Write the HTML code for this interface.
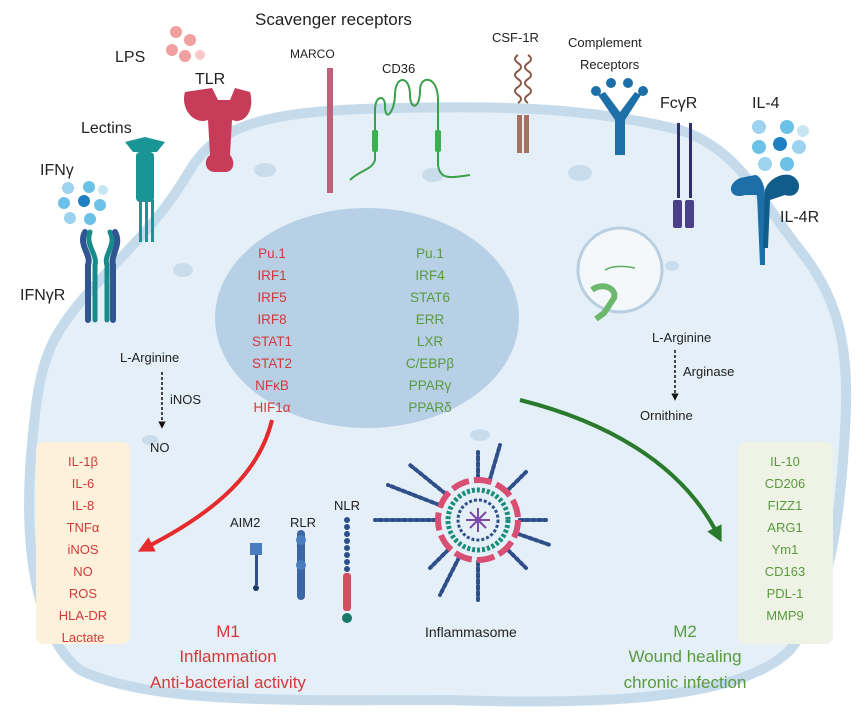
<!DOCTYPE html>
<html><head><meta charset="utf-8"><style>
body{margin:0;background:#fff}
svg{display:block}
text{font-family:"Liberation Sans",sans-serif}
</style></head><body>
<svg width="865" height="719" viewBox="0 0 865 719" xmlns="http://www.w3.org/2000/svg">
<defs>
<marker id="ar" viewBox="0 0 10 10" refX="5" refY="5" markerWidth="4" markerHeight="4" orient="auto"><path d="M0,0L10,5L0,10z" fill="#e52b2b"/></marker>
<marker id="ag" viewBox="0 0 10 10" refX="5" refY="5" markerWidth="4" markerHeight="4" orient="auto"><path d="M0,0L10,5L0,10z" fill="#2a7a2e"/></marker>
<marker id="ak" viewBox="0 0 10 10" refX="5" refY="5" markerWidth="5" markerHeight="5" orient="auto"><path d="M0,0L10,5L0,10z" fill="#111"/></marker>
</defs>
<path d="M60,330 C90,280 150,240 190,170 C220,120 280,110 400,108 C520,105 600,110 680,130 C740,150 760,200 800,250 C840,300 850,350 845,430 C840,520 830,600 790,650 C740,700 600,705 450,700 C300,700 150,705 80,670 C40,640 25,560 30,470 C35,400 40,360 60,330Z" fill="#e4eff7" stroke="#c5dbec" stroke-width="10"/>
<g fill="#c9dcec">
<ellipse cx="265" cy="170" rx="11" ry="7"/><ellipse cx="433" cy="175" rx="11" ry="7"/><ellipse cx="580" cy="173" rx="12" ry="8"/><ellipse cx="183" cy="270" rx="10" ry="7"/><ellipse cx="672" cy="266" rx="7" ry="5"/><ellipse cx="150" cy="440" rx="8" ry="5"/><ellipse cx="480" cy="435" rx="10" ry="6"/>
</g>
<ellipse cx="367" cy="318" rx="152" ry="110" fill="#b8d0e6"/>
<g font-size="13.5" text-anchor="middle" fill="#d23a3a">
<text x="272" y="258">Pu.1</text><text x="272" y="280">IRF1</text><text x="272" y="302">IRF5</text><text x="272" y="324">IRF8</text><text x="272" y="346">STAT1</text><text x="272" y="368">STAT2</text><text x="272" y="390">NFκB</text><text x="272" y="412">HIF1α</text>
</g>
<g font-size="13.5" text-anchor="middle" fill="#5a9a3e">
<text x="430" y="258">Pu.1</text><text x="430" y="280">IRF4</text><text x="430" y="302">STAT6</text><text x="430" y="324">ERR</text><text x="430" y="346">LXR</text><text x="430" y="368">C/EBPβ</text><text x="430" y="390">PPARγ</text><text x="430" y="412">PPARδ</text>
</g>
<path d="M272,420 C260,470 220,510 145,548" fill="none" stroke="#e52b2b" stroke-width="4" marker-end="url(#ar)"/>
<path d="M520,400 C600,420 680,460 718,535" fill="none" stroke="#2a7a2e" stroke-width="4" marker-end="url(#ag)"/>
<rect x="36" y="442" width="94" height="202" rx="8" fill="#fdf1db"/>
<rect x="738" y="442" width="95" height="202" rx="8" fill="#eef3e6"/>
<g font-size="13" text-anchor="middle" fill="#d23a3a">
<text x="83" y="466">IL-1β</text><text x="83" y="488">IL-6</text><text x="83" y="510">IL-8</text><text x="83" y="532">TNFα</text><text x="83" y="554">iNOS</text><text x="83" y="576">NO</text><text x="83" y="598">ROS</text><text x="83" y="620">HLA-DR</text><text x="83" y="642">Lactate</text>
</g>
<g font-size="13" text-anchor="middle" fill="#5a9a3e">
<text x="785" y="466">IL-10</text><text x="785" y="488">CD206</text><text x="785" y="510">FIZZ1</text><text x="785" y="532">ARG1</text><text x="785" y="554">Ym1</text><text x="785" y="576">CD163</text><text x="785" y="598">PDL-1</text><text x="785" y="620">MMP9</text>
</g>
<g font-size="17" text-anchor="middle" fill="#d23a3a"><text x="228" y="637">M1</text><text x="228" y="662">Inflammation</text><text x="228" y="688">Anti-bacterial activity</text></g>
<g font-size="17" text-anchor="middle" fill="#5a9a3e"><text x="685" y="637">M2</text><text x="685" y="662">Wound healing</text><text x="685" y="688">chronic infection</text></g>
<g font-size="13" fill="#222">
<text x="120" y="362">L-Arginine</text><text x="170" y="404">iNOS</text><text x="150" y="452">NO</text>
<text x="652" y="342">L-Arginine</text><text x="683" y="376">Arginase</text><text x="640" y="420">Ornithine</text>
<text x="425" y="637" font-size="14">Inflammasome</text>
<text x="230" y="527">AIM2</text><text x="290" y="527">RLR</text><text x="334" y="510">NLR</text>
</g>
<line x1="162" y1="372" x2="162" y2="425" stroke="#111" stroke-width="1.5" stroke-dasharray="3,2" marker-end="url(#ak)"/>
<line x1="675" y1="350" x2="675" y2="397" stroke="#111" stroke-width="1.5" stroke-dasharray="3,2" marker-end="url(#ak)"/>
<g font-size="16" fill="#222">
<text x="115" y="62">LPS</text><text x="195" y="84">TLR</text><text x="81" y="133">Lectins</text><text x="40" y="175">IFNγ</text><text x="20" y="300">IFNγR</text>
<text x="255" y="25" font-size="17">Scavenger receptors</text>
<text x="290" y="58" font-size="12">MARCO</text><text x="382" y="73" font-size="13">CD36</text><text x="492" y="42" font-size="13">CSF-1R</text>
<text x="568" y="47" font-size="13">Complement</text><text x="580" y="69" font-size="13">Receptors</text>
<text x="660" y="108">FcγR</text><text x="752" y="108">IL-4</text><text x="780" y="222">IL-4R</text>
</g>
<g fill="#f0a0a0"><circle cx="176" cy="32" r="6"/><circle cx="190" cy="40" r="6"/><circle cx="172" cy="50" r="6"/><circle cx="185" cy="56" r="6"/><circle cx="200" cy="55" r="5" fill="#f8c8c8"/></g>
<path d="M185,92 C180,110 195,125 208,120 L210,155 C203,160 205,172 215,172 L225,172 C235,172 235,160 230,155 L232,120 C245,125 255,110 250,92 L235,88 L230,100 L218,100 L212,88Z" fill="#c73c58"/>
<g fill="#1a9595"><path d="M125,142 l20,-5 l20,5 l-8,10 l-24,0z"/><rect x="136" y="152" width="18" height="50" rx="4"/><rect x="139" y="200" width="3" height="42"/><rect x="145" y="200" width="3" height="42"/><rect x="151" y="200" width="3" height="42"/></g>
<g fill="#6cc2e6"><circle cx="68" cy="188" r="6" fill="#9dd3ee"/><circle cx="89" cy="187" r="6"/><circle cx="103" cy="190" r="5" fill="#c7e6f4"/><circle cx="64" cy="203" r="6"/><circle cx="84" cy="201" r="6" fill="#1f7fc0"/><circle cx="100" cy="205" r="6"/><circle cx="70" cy="218" r="6" fill="#9dd3ee"/><circle cx="90" cy="219" r="6"/></g>
<g stroke-linecap="round" fill="none"><path d="M85,232 C78,245 92,255 88,265 L88,320" stroke="#2f5693" stroke-width="6"/><path d="M90,232 C85,245 98,255 95,265 L95,320" stroke="#198a8a" stroke-width="5"/><path d="M110,232 C117,245 103,255 107,265 L107,320" stroke="#198a8a" stroke-width="5"/><path d="M115,232 C122,245 110,255 113,265 L113,320" stroke="#2f5693" stroke-width="6"/></g>
<rect x="327" y="68" width="6" height="125" fill="#c0607a"/>
<path d="M350,180 C360,170 372,170 375,160 L375,110 C375,95 385,95 385,105 C385,125 395,110 395,95 C395,75 410,75 410,95 C410,110 420,110 420,90 C420,75 438,75 438,100 L438,165 C440,180 450,178 470,175" fill="none" stroke="#3aa04a" stroke-width="2"/>
<rect x="372" y="130" width="6" height="22" rx="2" fill="#3ab050"/><rect x="435" y="130" width="6" height="22" rx="2" fill="#3ab050"/>
<path d="M518,55 q-6,4 0,8 q6,4 0,8 q-6,4 0,8 q6,4 0,8 q-6,4 0,8 q6,4 0,8 M528,55 q6,4 0,8 q-6,4 0,8 q6,4 0,8 q-6,4 0,8 q6,4 0,8 q-6,4 0,8" fill="none" stroke="#8a5a4a" stroke-width="2"/>
<rect x="517" y="115" width="5" height="38" fill="#a87060"/><rect x="524" y="115" width="5" height="38" fill="#a87060"/>
<g fill="#1c6fa8"><circle cx="611" cy="83" r="5"/><circle cx="628" cy="83" r="5"/><circle cx="596" cy="91" r="5"/><circle cx="643" cy="91" r="5"/><path d="M598,95 L615,120 L615,155 L625,155 L625,120 L641,95 L635,92 L620,112 L605,92Z"/></g>
<rect x="677" y="123" width="3" height="75" fill="#2f2f6a"/><rect x="689" y="123" width="3" height="75" fill="#2f2f6a"/>
<rect x="673" y="200" width="9" height="28" rx="2" fill="#4b3f8a"/><rect x="685" y="200" width="9" height="28" rx="2" fill="#4b3f8a"/>
<g fill="#6cc2e6"><circle cx="759" cy="127" r="7" fill="#9dd3ee"/><circle cx="787" cy="127" r="7"/><circle cx="803" cy="131" r="6" fill="#c7e6f4"/><circle cx="759" cy="147" r="7"/><circle cx="780" cy="144" r="7" fill="#1f7fc0"/><circle cx="799" cy="147" r="7" fill="#9dd3ee"/><circle cx="765" cy="164" r="7" fill="#9dd3ee"/><circle cx="787" cy="164" r="7"/></g>
<path d="M740,178 C725,185 730,200 745,195 L757,195 L760,265 L765,265 L765,195 C765,185 760,175 755,175Z" fill="#1c6fa8"/>
<path d="M790,175 C805,180 800,200 785,195 L770,200 L768,248 L763,248 L765,190 C768,180 780,173 790,175Z" fill="#105d8a"/>
<circle cx="620" cy="270" r="42" fill="#f4f8fb" stroke="#b9cfe0" stroke-width="3"/>
<path d="M605,270 q10,-6 30,-2" stroke="#5cb060" fill="none" stroke-width="1.5"/>
<path d="M592,290 c10,-8 25,-2 22,8 l-10,15 l-8,6" stroke="#6cb86c" stroke-width="6" fill="none"/>
<rect x="250" y="543" width="12" height="12" fill="#4a7dc0"/><rect x="255" y="555" width="3" height="30" fill="#2f4f8a"/><circle cx="256" cy="588" r="3" fill="#1a3a6a"/>
<rect x="297" y="530" width="8" height="70" rx="4" fill="#3a66a8"/><circle cx="301" cy="540" r="5" fill="#4a7dc0"/><circle cx="301" cy="565" r="5" fill="#4a7dc0"/>
<g fill="#2f4f8a"><circle cx="347" cy="520" r="3"/><circle cx="347" cy="527" r="3"/><circle cx="347" cy="534" r="3"/><circle cx="347" cy="541" r="3"/><circle cx="347" cy="548" r="3"/><circle cx="347" cy="555" r="3"/><circle cx="347" cy="562" r="3"/><circle cx="347" cy="569" r="3"/></g>
<rect x="343" y="573" width="8" height="38" rx="3" fill="#d05060"/><circle cx="347" cy="618" r="5" fill="#1a7a6a"/>
<g stroke="#2f4f8a" stroke-width="4" stroke-dasharray="3,3" stroke-linecap="round">
<line x1="478" y1="520" x2="478" y2="452"/><line x1="478" y1="520" x2="526" y2="472"/><line x1="478" y1="520" x2="546" y2="520"/><line x1="478" y1="520" x2="526" y2="568"/><line x1="478" y1="520" x2="478" y2="600"/><line x1="478" y1="520" x2="430" y2="568"/><line x1="478" y1="520" x2="375" y2="520"/><line x1="478" y1="520" x2="410" y2="465"/><line x1="478" y1="520" x2="500" y2="445"/><line x1="478" y1="520" x2="550" y2="545"/><line x1="478" y1="520" x2="440" y2="595"/><line x1="478" y1="520" x2="388" y2="485"/>
</g>
<circle cx="478" cy="520" r="40" fill="#e4eff7" stroke="#d94f73" stroke-width="6" stroke-dasharray="18,5"/>
<circle cx="478" cy="520" r="30" fill="none" stroke="#1a8a7a" stroke-width="5" stroke-dasharray="3,2"/>
<circle cx="478" cy="520" r="20" fill="#e4eff7" stroke="#2f4f8a" stroke-width="3" stroke-dasharray="3,2"/>
<g stroke="#7a4aa8" stroke-width="2"><line x1="466" y1="520" x2="490" y2="520"/><line x1="478" y1="508" x2="478" y2="532"/><line x1="470" y1="512" x2="486" y2="528"/><line x1="486" y1="512" x2="470" y2="528"/></g>
</svg>
</body></html>
